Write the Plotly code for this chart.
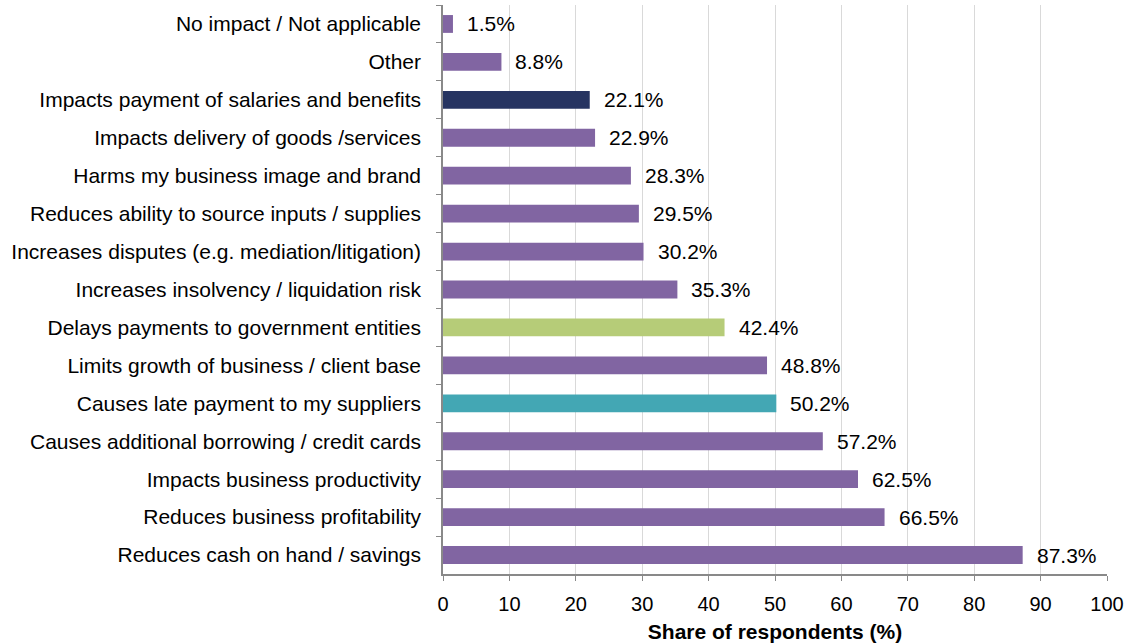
import plotly.graph_objects as go

categories = [
    "No impact / Not applicable",
    "Other",
    "Impacts payment of salaries and benefits",
    "Impacts delivery of goods /services",
    "Harms my business image and brand",
    "Reduces ability to source inputs / supplies",
    "Increases disputes (e.g. mediation/litigation)",
    "Increases insolvency / liquidation risk",
    "Delays payments to government entities",
    "Limits growth of business / client base",
    "Causes late payment to my suppliers",
    "Causes additional borrowing / credit cards",
    "Impacts business productivity",
    "Reduces business profitability",
    "Reduces cash on hand / savings",
]
values = [1.5, 8.8, 22.1, 22.9, 28.3, 29.5, 30.2, 35.3, 42.4, 48.8, 50.2, 57.2, 62.5, 66.5, 87.3]
bar_colors = ["#8165A2", "#8165A2", "#263461", "#8165A2", "#8165A2", "#8165A2", "#8165A2",
              "#8165A2", "#B6CC78", "#8165A2", "#43A7B4", "#8165A2", "#8165A2", "#8165A2", "#8165A2"]
x_ticks = list(range(0, 101, 10))

FONT = "Liberation Sans, Arial"

fig = go.Figure()
fig.add_trace(go.Bar(
    x=values, y=categories, orientation="h",
    marker=dict(color=bar_colors, line=dict(width=0)),
    width=0.47,
    hoverinfo="x+y",
))
for c, v in zip(categories, values):
    fig.add_annotation(x=v, y=c, text=f"{v:.1f}%", showarrow=False,
                       xanchor="left", xshift=12,
                       font=dict(family=FONT, size=21, color="#000000"))

fig.update_layout(
    width=1126, height=643,
    margin=dict(l=443, r=19, t=5, b=69),
    plot_bgcolor="white", paper_bgcolor="white",
    showlegend=False,
    font=dict(family=FONT, size=21, color="#000000"),
)
fig.update_xaxes(
    range=[0, 100], tickvals=x_ticks, ticktext=[str(t) for t in x_ticks],
    showgrid=True, gridcolor="#D9D9D9", gridwidth=1,
    showline=True, linecolor="#898989", linewidth=1.5,
    ticks="outside", ticklen=5, tickcolor="#898989",
    zeroline=False, automargin=False,
    ticklabelstandoff=6,
    tickfont=dict(size=20),
    title=dict(text="<b>Share of respondents (%)</b>", font=dict(size=21), standoff=12),
)
fig.update_yaxes(
    categoryorder="array", categoryarray=categories, autorange="reversed",
    showgrid=False, automargin=False,
    showline=True, linecolor="#898989", linewidth=1.5,
    ticks="outside", ticklen=5, tickcolor="#898989", tickson="boundaries",
    ticklabelstandoff=16,
    tickfont=dict(size=21),
)

fig.write_html("out.html", config={"displayModeBar": False},
               post_script="document.body.style.margin='0';")
